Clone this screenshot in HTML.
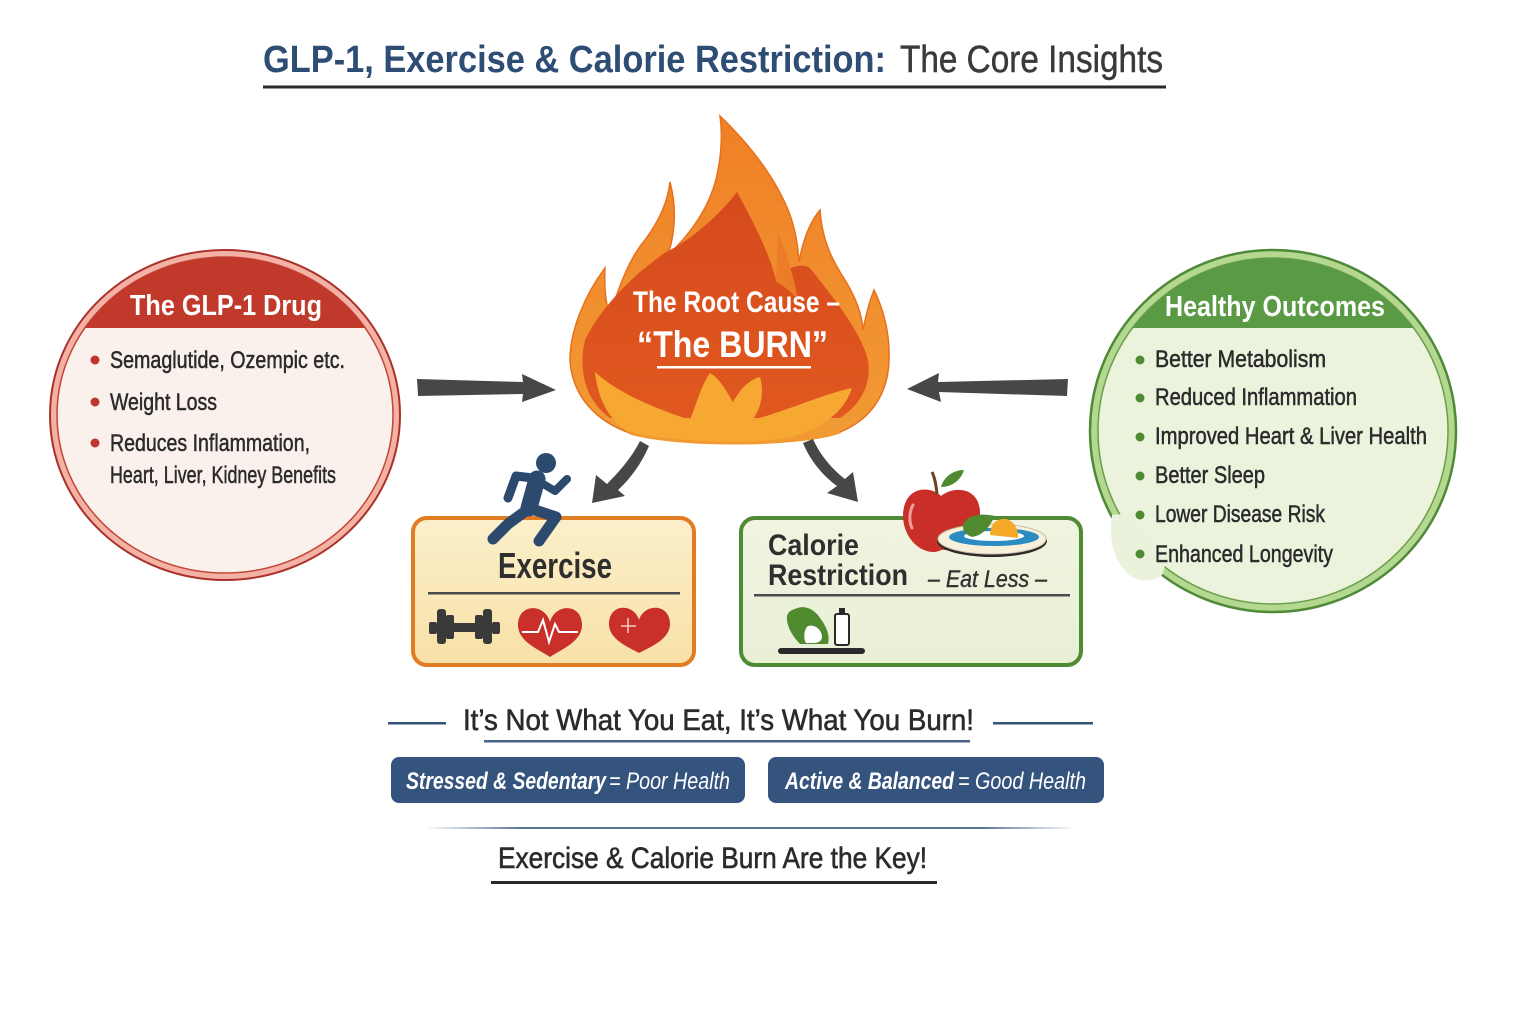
<!DOCTYPE html>
<html><head><meta charset="utf-8"><style>
html,body{margin:0;padding:0;background:#fff;}
svg{display:block;}
text{font-family:"Liberation Sans Narrow","Liberation Sans",sans-serif;}
</style></head><body>
<svg width="1536" height="1024" viewBox="0 0 1536 1024" xmlns="http://www.w3.org/2000/svg">
<defs>
  <clipPath id="clipL"><ellipse cx="225" cy="415" rx="168" ry="158"/></clipPath>
  <clipPath id="clipR"><ellipse cx="1273" cy="431" rx="175" ry="173"/></clipPath>
  <linearGradient id="gOuter" x1="0" y1="0" x2="0" y2="1">
    <stop offset="0" stop-color="#f07f26"/><stop offset="1" stop-color="#f19b35"/>
  </linearGradient>
  <linearGradient id="gInner" x1="0" y1="0" x2="0" y2="1">
    <stop offset="0" stop-color="#d64a1d"/><stop offset="1" stop-color="#e0581f"/>
  </linearGradient>
  <linearGradient id="gEx" x1="0" y1="0" x2="0" y2="1">
    <stop offset="0" stop-color="#fbefcb"/><stop offset="1" stop-color="#f8e1a6"/>
  </linearGradient>
  <linearGradient id="gCal" x1="0" y1="0" x2="0" y2="1">
    <stop offset="0" stop-color="#f0f4e0"/><stop offset="1" stop-color="#e9f0d6"/>
  </linearGradient>
  <linearGradient id="gLine" x1="0" y1="0" x2="1" y2="0">
    <stop offset="0" stop-color="#5a7397" stop-opacity="0"/><stop offset="0.15" stop-color="#5a7397"/><stop offset="0.85" stop-color="#5a7397"/><stop offset="1" stop-color="#5a7397" stop-opacity="0"/>
  </linearGradient>
</defs>

<!-- Title -->
<text x="263" y="72" font-size="38" font-weight="bold" fill="#2e4d74" textLength="623" lengthAdjust="spacingAndGlyphs">GLP-1, Exercise &amp; Calorie Restriction:</text>
<text x="900" y="72" font-size="38" fill="#3a3a3a" stroke="#3a3a3a" stroke-width="0.5" textLength="263" lengthAdjust="spacingAndGlyphs">The Core Insights</text>
<rect x="263" y="85.5" width="903" height="3" fill="#2a2a2a"/>

<!-- Left circle -->
<ellipse cx="225" cy="415" rx="175" ry="165" fill="#f3b2a4" stroke="#a9312a" stroke-width="2"/>
<ellipse cx="225" cy="415" rx="168" ry="158" fill="#fbf1ec" stroke="#c3453a" stroke-width="1.5"/>
<g clip-path="url(#clipL)"><rect x="40" y="240" width="380" height="88" fill="#c0392b"/></g>
<text x="130" y="315" font-size="29" font-weight="bold" fill="#fff" textLength="192" lengthAdjust="spacingAndGlyphs">The GLP-1 Drug</text>
<g fill="#c0352c"><circle cx="95" cy="360" r="4.5"/><circle cx="95" cy="402" r="4.5"/><circle cx="95" cy="443" r="4.5"/></g>
<g font-size="24" fill="#2b2b2b" stroke="#2b2b2b" stroke-width="0.5">
<text x="110" y="368" textLength="235" lengthAdjust="spacingAndGlyphs">Semaglutide, Ozempic etc.</text>
<text x="110" y="410" textLength="107" lengthAdjust="spacingAndGlyphs">Weight Loss</text>
<text x="110" y="451" textLength="200" lengthAdjust="spacingAndGlyphs">Reduces Inflammation,</text>
<text x="110" y="483" textLength="226" lengthAdjust="spacingAndGlyphs">Heart, Liver, Kidney Benefits</text>
</g>

<!-- Right circle -->
<ellipse cx="1273" cy="431" rx="183" ry="181" fill="#b5d890" stroke="#4e8a38" stroke-width="2.5"/>
<ellipse cx="1273" cy="431" rx="175" ry="173" fill="#ebf3dd" stroke="#6aa04a" stroke-width="1.5"/>
<path d="M1112,515 C1125,512 1140,520 1145,530 C1160,540 1170,560 1162,575 C1150,585 1130,580 1125,570 C1115,560 1108,540 1112,515 Z" fill="#eaf2dc"/>
<g clip-path="url(#clipR)"><rect x="1090" y="240" width="380" height="88" fill="#5b9a45"/></g>
<text x="1165" y="316" font-size="29" font-weight="bold" fill="#fff" textLength="220" lengthAdjust="spacingAndGlyphs">Healthy Outcomes</text>
<g fill="#4f8a35"><circle cx="1140" cy="360" r="4.5"/><circle cx="1140" cy="398" r="4.5"/><circle cx="1140" cy="437" r="4.5"/><circle cx="1140" cy="476" r="4.5"/><circle cx="1140" cy="515" r="4.5"/><circle cx="1140" cy="554" r="4.5"/></g>
<g font-size="24" fill="#2b2b2b" stroke="#2b2b2b" stroke-width="0.5">
<text x="1155" y="367" textLength="171" lengthAdjust="spacingAndGlyphs">Better Metabolism</text>
<text x="1155" y="405" textLength="202" lengthAdjust="spacingAndGlyphs">Reduced Inflammation</text>
<text x="1155" y="444" textLength="272" lengthAdjust="spacingAndGlyphs">Improved Heart &amp; Liver Health</text>
<text x="1155" y="483" textLength="110" lengthAdjust="spacingAndGlyphs">Better Sleep</text>
<text x="1155" y="522" textLength="170" lengthAdjust="spacingAndGlyphs">Lower Disease Risk</text>
<text x="1155" y="562" textLength="178" lengthAdjust="spacingAndGlyphs">Enhanced Longevity</text>
</g>

<!-- Flame -->
<path d="M720,116 C745,140 775,175 790,215 C797,235 798,250 799,262 C803,240 810,222 820,210 C822,240 832,260 845,280 C856,298 862,315 863,330 C866,315 870,300 874,290 C884,310 890,335 889,360 C888,395 870,420 840,432 C800,446 680,447 630,433 C595,421 572,395 570,360 C570,330 585,295 605,268 C604,290 606,305 610,315 C618,290 628,260 645,240 C660,220 668,200 670,182 C676,205 676,230 668,255 C690,235 712,205 718,170 C722,150 722,130 720,116 Z" fill="url(#gOuter)" stroke="#e8701c" stroke-width="1.5"/>
<path d="M737,192 C755,225 770,255 776,280 C786,268 800,262 810,268 C835,300 860,330 868,360 C872,385 860,405 840,418 L610,418 C585,400 578,370 585,340 C600,310 622,288 640,272 C655,260 665,252 670,250 C690,240 720,215 737,192 Z" fill="url(#gInner)"/>
<path d="M778,233 C790,260 795,285 798,300 C790,290 782,285 776,282 Z" fill="#ec7d28"/>
<path d="M595,372 C620,395 660,410 690,420 C698,400 700,388 710,373 C722,380 728,395 733,402 C740,390 748,380 760,377 C765,395 760,410 752,420 C790,410 820,395 852,388 C845,410 825,428 790,437 C740,446 670,444 630,433 C610,422 598,400 595,372 Z" fill="#f6a832"/>
<path d="M630,433 C680,447 800,446 840,432" fill="none" stroke="#f29a30" stroke-width="3"/>
<text x="633" y="312" font-size="30" font-weight="bold" fill="#fff" textLength="207" lengthAdjust="spacingAndGlyphs">The Root Cause –</text>
<text x="637" y="357" font-size="37" font-weight="bold" fill="#fff" textLength="191" lengthAdjust="spacingAndGlyphs">“The BURN”</text>
<rect x="657" y="366" width="154" height="2.5" fill="#fff"/>

<!-- Horizontal arrows -->
<path d="M417,379 L523,382 L522,374 L556,390 L522,402 L523,394 L418,396 Z" fill="#474747"/>
<path d="M907,389 L939,373 L938,382 L1068,379 L1067,396 L939,392 L941,402 Z" fill="#474747"/>
<!-- Down arrows -->
<path d="M640,441 L649,446 C641,464 631,478 618,490 L625,496 L592,503 L596,475 L607,484 C620,471 632,457 640,441 Z" fill="#474747"/>
<path d="M803,443 L813,439 C820,455 832,469 845,479 L853,472 L858,502 L827,493 L837,486 C822,475 810,460 803,443 Z" fill="#474747"/>

<!-- Exercise box -->
<rect x="413" y="518" width="281" height="147" rx="14" fill="url(#gEx)" stroke="#e27c22" stroke-width="4"/>
<text x="498" y="578" font-size="36" font-weight="bold" fill="#2f2f2f" textLength="114" lengthAdjust="spacingAndGlyphs">Exercise</text>
<rect x="428" y="592" width="252" height="2.5" fill="#4a4a4a"/>
<!-- runner -->
<g stroke="#2c4a6e" stroke-linecap="round" stroke-linejoin="round" fill="none">
  <line x1="537" y1="479" x2="529" y2="508" stroke-width="17"/>
  <polyline points="533,478 516,476 508,498" stroke-width="9"/>
  <polyline points="540,482 555,491 567,479" stroke-width="8"/>
  <polyline points="529,508 556,517 539,541" stroke-width="11"/>
  <polyline points="527,510 508,524 493,539" stroke-width="11"/>
</g>
<circle cx="546" cy="463" r="10" fill="#2c4a6e"/>
<!-- dumbbell -->
<g fill="#3a3a3a">
  <rect x="429" y="622" width="8" height="12" rx="2"/>
  <rect x="437" y="609" width="9" height="35" rx="3"/>
  <rect x="446" y="615" width="8" height="24" rx="2"/>
  <rect x="454" y="623" width="21" height="9"/>
  <rect x="475" y="615" width="8" height="24" rx="2"/>
  <rect x="483" y="609" width="9" height="35" rx="3"/>
  <rect x="492" y="622" width="8" height="12" rx="2"/>
</g>
<!-- heart ECG -->
<path d="M550,622 C545,603 518,603 518,625 C518,642 540,650 550,657 C560,650 582,642 582,625 C582,603 555,603 550,622 Z" fill="#c9302a"/>
<polyline points="522,632 538,632 543,620 549,642 555,624 559,632 578,632" fill="none" stroke="#fff" stroke-width="2"/>
<!-- heart plus -->
<path d="M639,620 C634,603 609,603 609,624 C609,640 630,648 639,653 C648,648 670,640 670,624 C670,603 644,603 639,620 Z" fill="#c9302a"/>
<path d="M628,618 L628,633 M621,626 L636,626" stroke="#f5d0c0" stroke-width="1.5"/>

<!-- Calorie box -->
<rect x="741" y="518" width="340" height="147" rx="14" fill="url(#gCal)" stroke="#4f8a34" stroke-width="4"/>
<text x="768" y="555" font-size="30" font-weight="bold" fill="#2f2f2f" textLength="91" lengthAdjust="spacingAndGlyphs">Calorie</text>
<text x="768" y="585" font-size="30" font-weight="bold" fill="#2f2f2f" textLength="140" lengthAdjust="spacingAndGlyphs">Restriction</text>
<text x="928" y="587" font-size="24" font-style="italic" fill="#333" stroke="#333" stroke-width="0.4" textLength="119" lengthAdjust="spacingAndGlyphs">– Eat Less –</text>
<rect x="754" y="594" width="316" height="2.5" fill="#4a4a4a"/>
<!-- pepper & bottle -->
<path d="M795,609 C805,604 815,610 820,618 C827,627 830,636 828,644 L800,644 C792,636 786,625 787,616 C788,612 791,610 795,609 Z" fill="#4f8a2f"/>
<path d="M808,626 C815,624 822,630 822,637 C822,641 818,643 814,643 L806,643 C803,638 804,629 808,626 Z" fill="#fff"/>
<rect x="835" y="614" width="14" height="31" rx="2" fill="#fff" stroke="#2a2a2a" stroke-width="2"/>
<rect x="839" y="608" width="6" height="6" fill="#2a2a2a"/>
<rect x="778" y="648" width="87" height="6" rx="3" fill="#2a2a2a"/>
<!-- apple -->
<path d="M941,496 C930,485 904,486 903,515 C903,538 920,553 935,552 C940,551 942,549 945,550 C960,553 980,538 980,513 C980,488 955,485 941,496 Z" fill="#c92f28"/>
<path d="M913,505 C909,512 909,522 912,528" stroke="#f0a09a" stroke-width="3" fill="none" stroke-linecap="round"/>
<path d="M937,494 C936,485 935,478 932,472" stroke="#6b4226" stroke-width="3" fill="none"/>
<path d="M941,487 C944,476 954,470 964,470 C961,480 952,487 941,487 Z" fill="#4e8a30"/>
<!-- plate -->
<ellipse cx="992" cy="541" rx="55" ry="16" fill="#2a2a2a"/>
<ellipse cx="992" cy="539" rx="54" ry="15" fill="#f7f1dc" stroke="#c8bfa8" stroke-width="1"/>
<ellipse cx="994" cy="537" rx="45" ry="9" fill="#2b8bc2"/>
<ellipse cx="994" cy="536" rx="30" ry="5" fill="#fff"/>
<path d="M963,527 C963,517 978,512 995,516 C990,525 985,535 972,537 C966,535 963,531 963,527 Z" fill="#4f8a30"/>
<path d="M990,535 C990,524 997,518 1006,519 C1014,521 1019,530 1018,538 Z" fill="#f4a928"/>

<!-- Bottom -->
<rect x="388" y="722" width="58" height="2.5" fill="#34527a"/>
<rect x="993" y="722" width="100" height="2.5" fill="#34527a"/>
<text x="463" y="730" font-size="30" fill="#2b2b2b" stroke="#2b2b2b" stroke-width="0.6" textLength="511" lengthAdjust="spacingAndGlyphs">It’s Not What You Eat, It’s What You Burn!</text>
<rect x="484" y="740" width="486" height="2.5" fill="#4a6288"/>

<rect x="391" y="757" width="354" height="46" rx="8" fill="#34547e"/>
<text x="406" y="789" font-size="24" font-weight="bold" font-style="italic" fill="#fff" textLength="200" lengthAdjust="spacingAndGlyphs">Stressed &amp; Sedentary</text>
<text x="609" y="789" font-size="24" font-style="italic" fill="#fff" textLength="121" lengthAdjust="spacingAndGlyphs">= Poor Health</text>
<rect x="768" y="757" width="336" height="46" rx="8" fill="#34547e"/>
<text x="785" y="789" font-size="24" font-weight="bold" font-style="italic" fill="#fff" textLength="169" lengthAdjust="spacingAndGlyphs">Active &amp; Balanced</text>
<text x="958" y="789" font-size="24" font-style="italic" fill="#fff" textLength="128" lengthAdjust="spacingAndGlyphs">= Good Health</text>

<rect x="425" y="827" width="652" height="2" fill="url(#gLine)"/>
<text x="498" y="868" font-size="30" fill="#2b2b2b" stroke="#2b2b2b" stroke-width="0.6" textLength="429" lengthAdjust="spacingAndGlyphs">Exercise &amp; Calorie Burn Are the Key!</text>
<rect x="491" y="881" width="446" height="3" fill="#2a2a2a"/>
</svg>
</body></html>
